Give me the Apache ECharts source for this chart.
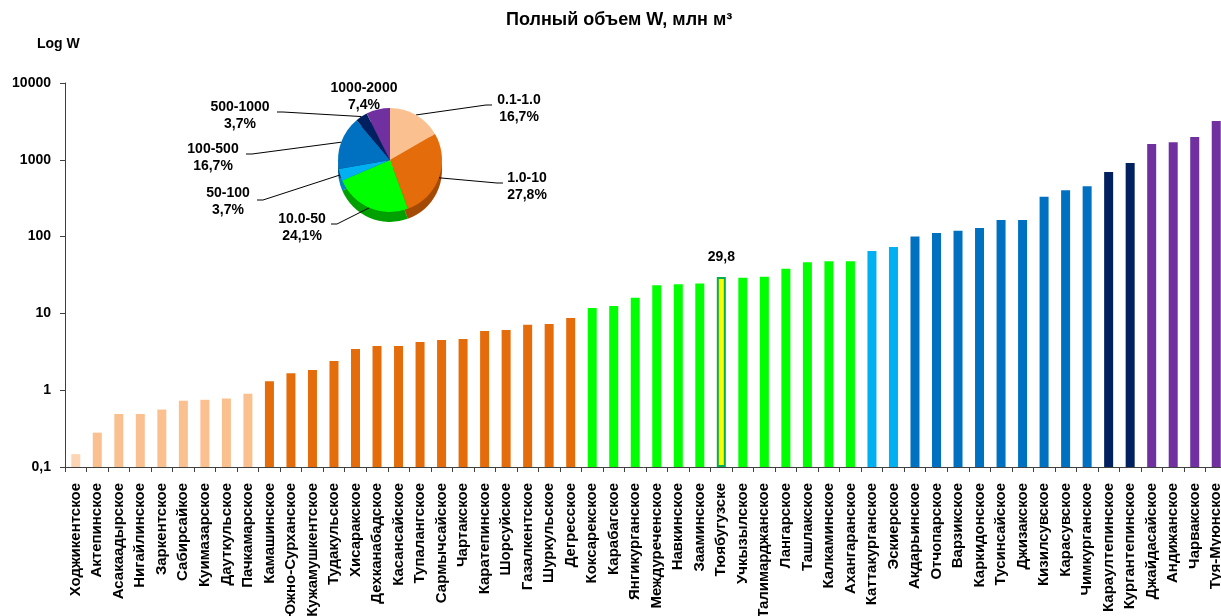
<!DOCTYPE html>
<html><head><meta charset="utf-8">
<script src="https://cdn.jsdelivr.net/npm/echarts@6/dist/echarts.min.js"></script>
<style>html,body{margin:0;padding:0;background:#fff}#c{width:1221px;height:616px}</style>
</head><body><div id="c"></div>
<script>
const categories = ['Ходжикентское','Актепинское','Асакаадырское','Нигайлинское','Заркентское','Сабирсайкое','Куимазарское','Дауткульское','Пачкамарское','Камашинское','Южно-Сурханское','Кужамушкентское','Тудакульское','Хисаракское','Дехканабадское','Касансайское','Тупалангское','Сармычсайское','Чартакское','Каратепинское','Шорсуйское','Газалкентское','Шуркульское','Дегресское','Коксарекское','Карабагское','Янгикурганское','Междуреченское','Навкинское','Зааминское','Тюябугузске','Учкызылское','Талимарджанское','Лангарское','Ташлакское','Калкаминское','Ахангаранское','Каттакурганское','Эскиерское','Акдарьинское','Отчопарское','Варзикское','Каркидонское','Тусинсайское','Джизакское','Кизилсувское','Карасувское','Чимкурганское','Караултепинское','Кургантепинское','Джайдасайское','Андижанское','Чарвакское','Туя-Муюнское'];
const values = [0.147,0.28,0.49,0.49,0.56,0.73,0.75,0.78,0.90,1.31,1.66,1.83,2.4,3.44,3.75,3.75,4.24,4.5,4.64,5.9,6.08,7.13,7.28,8.7,11.8,12.5,16.0,23.2,23.9,24.6,29.8,29.2,30.1,38.2,46.2,47.7,47.7,64.9,73.2,100,111,119,129,164,164,331,401,452,694,908,1607,1690,1980,3200];
const highlightIndex = 30;
const highlightLabel = '29,8';
const groupNames = ['0.1-1.0','1.0-10','10.0-50','50-100','100-500','500-1000','1000-2000'];
const groupUpper = [1,10,50,100,500,1000,Infinity];
const groupColors = ['#FAC090','#E46C0A','#00FF00','#00B0F0','#0070C0','#002060','#7030A0'];
const groupSideColors = ['#D9995C','#A34A04','#00A000','#0086B8','#004F8C','#00102E','#4C1C74'];
const yTicks = ['0,1','1','10','100','1000','10000'];

const FONT = '"Liberation Sans", Arial, sans-serif';
const groupOf = v => groupUpper.findIndex(u => v < u);
const counts = groupNames.map((_, g) => values.filter(v => groupOf(v) === g).length);
const total = counts.reduce((a, b) => a + b, 0);
const pct = c => (c / total * 100).toFixed(1).replace('.', ',') + '%';

const barData = values.map((v, i) => {
  const item = { value: v, itemStyle: { color: i === 0 ? '#FCD5B4' : groupColors[groupOf(v)] } };
  if (i === highlightIndex) {
    item.itemStyle = { color: '#FFFF00', borderColor: '#00B050', borderWidth: 2 };
    item.label = { show: true, position: 'top', distance: 13, formatter: highlightLabel,
      fontSize: 14, fontWeight: 'bold', color: '#000', fontFamily: FONT };
  }
  return item;
});

// label placement for pie (layout only)
const pieLabelPos = [[519,109,492,105],[527,187,503,183],[302,228,331,224],[228,202,257,200],[213,158,246,154],[240,116,277,112],[364,97,null,null]];

const chart = echarts.init(document.getElementById('c'), null, { renderer: 'canvas' });
chart.setOption({
  animation: false,
  backgroundColor: '#fff',
  textStyle: { fontFamily: FONT },
  title: [
    { text: 'Полный объем W, млн м³', left: 506, top: 11, padding: 0,
      textStyle: { fontSize: 18, fontWeight: 'bold', color: '#000', fontFamily: FONT } },
    { text: 'Log W', left: 37, top: 37, padding: 0,
      textStyle: { fontSize: 14, fontWeight: 'bold', color: '#000', fontFamily: FONT } }
  ],
  grid: { left: 65, top: 83, width: 1162, height: 384, containLabel: false, outerBoundsMode: 'none' },
  xAxis: {
    type: 'category', data: categories,
    axisLine: { lineStyle: { color: '#404040', width: 1 } },
    axisTick: { show: true, length: 5, interval: 0, lineStyle: { color: '#404040' } },
    axisLabel: { interval: 0, rotate: 90, margin: 16, fontSize: 15, fontWeight: 'bold', color: '#000', fontFamily: FONT }
  },
  yAxis: {
    type: 'log', logBase: 10, min: 0.1, max: 10000, startValue: 0.1,
    axisLine: { show: true, lineStyle: { color: '#404040', width: 1 } },
    axisTick: { show: true, length: 5, lineStyle: { color: '#404040' } },
    splitLine: { show: false },
    axisLabel: { margin: 14, fontSize: 14, fontWeight: 'bold', color: '#000', fontFamily: FONT,
      formatter: v => { const e = Math.round(Math.log10(v)) + 1; return yTicks[e] !== undefined ? yTicks[e] : ''; } }
  },
  series: [
    { type: 'bar', data: barData, barWidth: 9, z: 2 },
    { type: 'pie', center: [390, 170], radius: 52, silent: true, z: 3, startAngle: 90, clockwise: true,
      label: { show: false }, labelLine: { show: false },
      data: counts.map((c, g) => ({ value: c, name: groupNames[g], itemStyle: { color: groupSideColors[g] } })) },
    { type: 'pie', center: [390, 160], radius: 52, z: 4, startAngle: 90, clockwise: true,
      label: { show: true, formatter: p => p.name + '\n' + pct(p.value), fontSize: 14, fontWeight: 'bold',
        color: '#000', lineHeight: 17, fontFamily: FONT, align: 'center' },
      labelLine: { show: true, lineStyle: { color: '#000', width: 1 } },
      labelLayout: p => {
        const pos = pieLabelPos[p.dataIndex];
        const o = { x: pos[0], y: pos[1], align: 'center', verticalAlign: 'middle', hideOverlap: false, moveOverlap: false };
        if (pos[2] !== null && p.labelLinePoints) {
          const s = p.labelLinePoints[0];
          const dir = pos[2] > s[0] ? 1 : -1;
          o.labelLinePoints = [s, [pos[2] - dir * 6, pos[3]], [pos[2], pos[3]]];
        }
        return o;
      },
      data: counts.map((c, g) => ({ value: c, name: groupNames[g], itemStyle: { color: groupColors[g] },
        labelLine: { show: g !== 6 } })) }
  ]
});
</script></body></html>
